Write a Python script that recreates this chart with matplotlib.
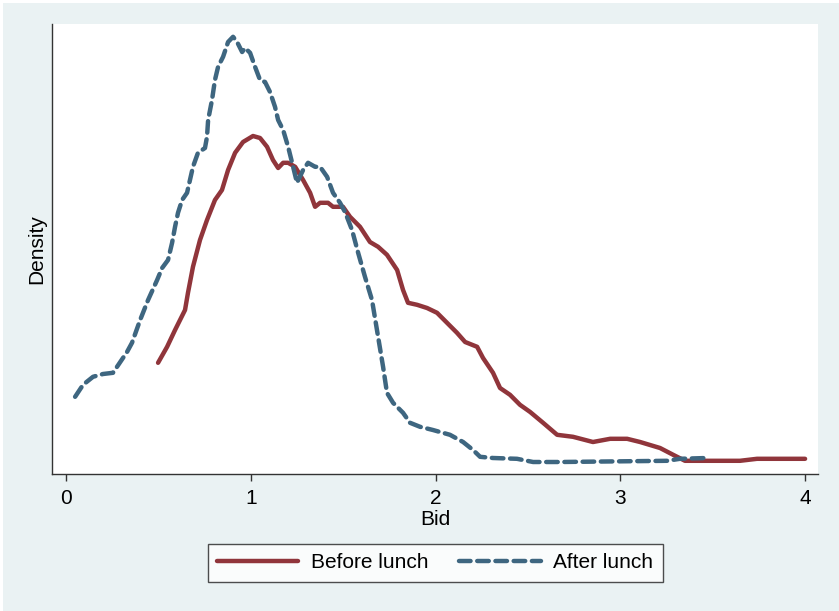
import numpy as np
import matplotlib
matplotlib.use("Agg")
import matplotlib.pyplot as plt
from matplotlib.patches import Rectangle

plt.rcParams['font.family'] = ['Liberation Sans', 'DejaVu Sans']

# kernel density, before lunch
before_x = [0.498, 0.547, 0.590, 0.644, 0.660, 0.687, 0.725, 0.763, 0.806, 0.844,
            0.877, 0.915, 0.958, 1.012, 1.050, 1.088, 1.120, 1.148, 1.175, 1.202,
            1.240, 1.283, 1.321, 1.348, 1.375, 1.418, 1.445, 1.499, 1.537, 1.591,
            1.645, 1.689, 1.737, 1.792, 1.824, 1.851, 1.900, 1.954, 2.008, 2.062,
            2.116, 2.160, 2.225, 2.257, 2.311, 2.349, 2.403, 2.457, 2.512, 2.582,
            2.658, 2.744, 2.852, 2.945, 3.037, 3.107, 3.215, 3.286, 3.350, 3.648,
            3.740, 3.827, 4.000]
before_d = [0.258, 0.298, 0.340, 0.390, 0.433, 0.498, 0.565, 0.615, 0.665, 0.690,
            0.740, 0.783, 0.810, 0.825, 0.820, 0.798, 0.765, 0.745, 0.758, 0.758,
            0.748, 0.715, 0.683, 0.648, 0.658, 0.658, 0.648, 0.648, 0.623, 0.598,
            0.560, 0.548, 0.528, 0.490, 0.440, 0.408, 0.403, 0.395, 0.383, 0.358,
            0.333, 0.310, 0.298, 0.270, 0.233, 0.195, 0.178, 0.153, 0.135, 0.108,
            0.078, 0.073, 0.060, 0.068, 0.068, 0.060, 0.045, 0.028, 0.013, 0.013,
            0.018, 0.018, 0.018]

# kernel density, after lunch
after_x = [0.049, 0.092, 0.146, 0.200, 0.254, 0.330, 0.357, 0.401, 0.444, 0.493,
           0.520, 0.552, 0.574, 0.590, 0.606, 0.628, 0.655, 0.687, 0.714, 0.752,
           0.763, 0.769, 0.790, 0.806, 0.823, 0.850, 0.877, 0.904, 0.926, 0.953,
           0.969, 0.996, 1.023, 1.050, 1.077, 1.104, 1.131, 1.148, 1.175, 1.202,
           1.229, 1.250, 1.283, 1.310, 1.348, 1.375, 1.413, 1.445, 1.483, 1.510,
           1.548, 1.581, 1.618, 1.656, 1.689, 1.716, 1.737, 1.770, 1.824, 1.862,
           1.916, 1.986, 2.078, 2.149, 2.203, 2.241, 2.311, 2.441, 2.528, 2.674,
           3.253, 3.323, 3.470]
after_d = [0.173, 0.203, 0.223, 0.230, 0.233, 0.285, 0.308, 0.365, 0.415, 0.465,
           0.495, 0.515, 0.558, 0.598, 0.633, 0.665, 0.683, 0.748, 0.783, 0.795,
           0.823, 0.865, 0.915, 0.965, 0.998, 1.023, 1.060, 1.073, 1.060, 1.035,
           1.045, 1.033, 0.998, 0.965, 0.960, 0.935, 0.898, 0.865, 0.840, 0.798,
           0.748, 0.708, 0.740, 0.758, 0.748, 0.748, 0.723, 0.683, 0.658, 0.635,
           0.590, 0.533, 0.473, 0.415, 0.323, 0.248, 0.183, 0.158, 0.133, 0.108,
           0.098, 0.090, 0.078, 0.060, 0.040, 0.023, 0.020, 0.018, 0.010, 0.010,
           0.013, 0.018, 0.020]

xticks = [0, 1, 2, 3, 4]

bg = '#EAF2F3'
red = '#90353B'
blue = '#3E6680'
fs = 15

fig = plt.figure(figsize=(8.39, 6.11), dpi=100)
fig.patch.set_facecolor('white')
fig.patches.append(Rectangle((3 / 839, 0), 1, 1 - 3 / 611, transform=fig.transFigure,
                             facecolor=bg, edgecolor='none', zorder=-10))

ax = fig.add_axes([52 / 839, 1 - 474 / 611, 766 / 839, 450 / 611])
ax.set_facecolor('white')

ax.plot(before_x, before_d, color=red, lw=3.2, solid_capstyle='round',
        solid_joinstyle='round', label='Before lunch')
ax.plot(after_x, after_d, color=blue, lw=3.2, linestyle=(0, (2.6, 1.5)),
        dash_capstyle='round', dash_joinstyle='round', label='After lunch')

ax.set_xlim(-0.076, 4.07)
ax.set_ylim(-0.02, 1.105)

ax.set_xticks(xticks)
ax.set_xticklabels([str(t) for t in xticks], fontsize=fs)
ax.set_yticks([])
ax.tick_params(axis='x', direction='out', length=5, width=1, color='#333333', pad=6)

for s in ['top', 'right']:
    ax.spines[s].set_visible(False)
for s in ['left', 'bottom']:
    ax.spines[s].set_color('#333333')
    ax.spines[s].set_linewidth(1)

ax.set_xlabel('Bid', fontsize=fs, labelpad=1)
ax.set_ylabel('Density', fontsize=fs, labelpad=4)

leg = fig.legend(loc='center', bbox_to_anchor=(435 / 839, 1 - 563 / 611), ncol=2,
                 fontsize=fs, frameon=True, fancybox=False, handlelength=3.9,
                 columnspacing=1.5, borderpad=0.45, handletextpad=0.6)
leg.get_frame().set_edgecolor('#222222')
leg.get_frame().set_linewidth(1)
leg.get_frame().set_facecolor('white')

fig.savefig('out.png', dpi=100, facecolor=fig.get_facecolor())
